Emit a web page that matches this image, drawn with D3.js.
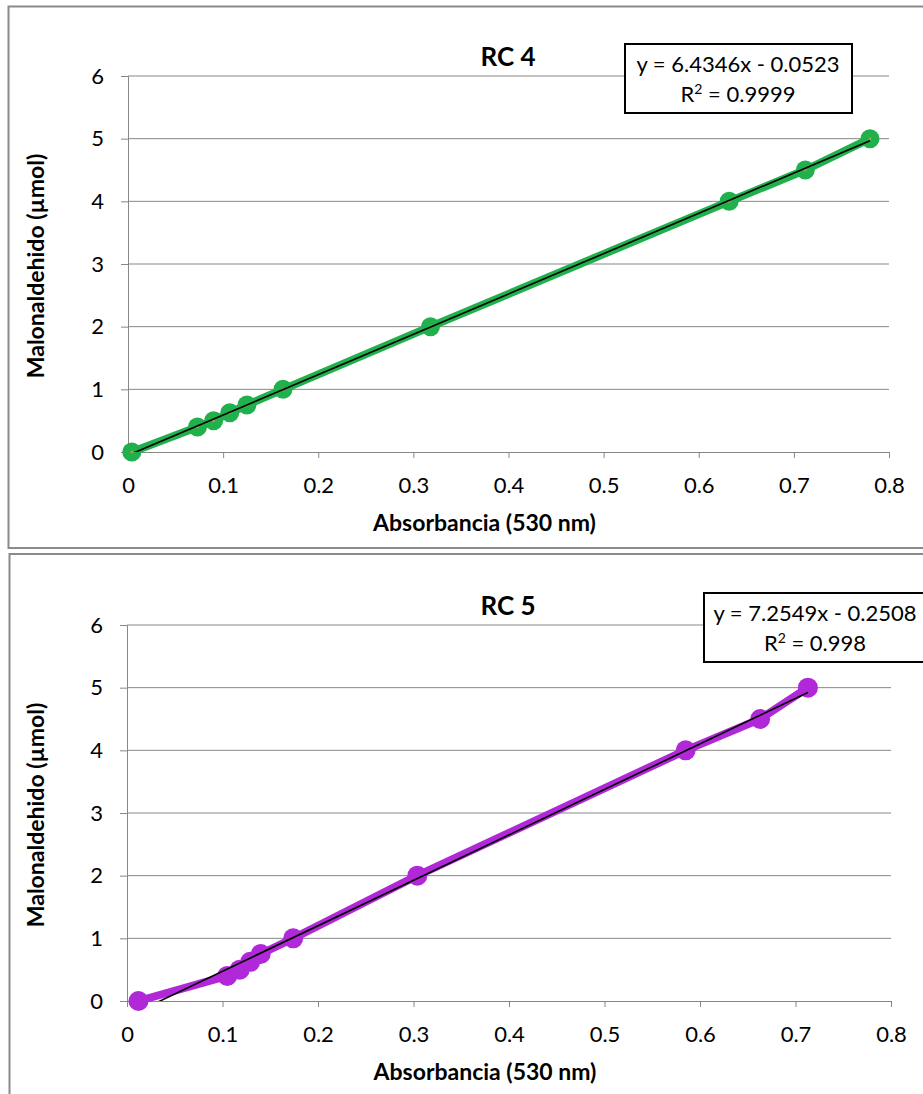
<!DOCTYPE html>
<html>
<head>
<meta charset="utf-8">
<script src="https://cdn.jsdelivr.net/npm/d3@7"></script>
<style>
  html, body { margin: 0; padding: 0; background: #fff; }
  text { font-family: Lato, "Open Sans", sans-serif; fill: #000; }
</style>
</head>
<body>
<svg id="chart" width="923" height="1094"></svg>
<script>
// Calibration curves: absorbance at 530 nm vs. malonaldehyde (µmol)
const mdaAmounts = [0, 0.4, 0.5, 0.625, 0.75, 1, 2, 4, 4.5, 5];
const rc4Absorbance = [0.004, 0.073, 0.090, 0.107, 0.125, 0.163, 0.318, 0.632, 0.712, 0.780];
const rc5Absorbance = [0.012, 0.105, 0.118, 0.129, 0.140, 0.174, 0.304, 0.585, 0.663, 0.713];
const xTicks = [0, 0.1, 0.2, 0.3, 0.4, 0.5, 0.6, 0.7, 0.8];
const yTicks = [0, 1, 2, 3, 4, 5, 6];
const chartTitles = ["RC 4", "RC 5"];
const fitSlopes = [6.4346, 7.2549];
const fitIntercepts = [-0.0523, -0.2508];
const fitR2 = ["0.9999", "0.998"];

const svg = d3.select("#chart");

const panels = [
  { frame: [8.5, 6.5, 930, 541.5], plot: { l: 128, r: 889, t: 76, b: 452 },
    xs: rc4Absorbance, color: "#20b04c", dot: "#a0a040", r: 9.5,
    box: [625, 44, 227, 69], boxCx: 738 },
  { frame: [9.5, 554, 930, 560], plot: { l: 127, r: 891, t: 625, b: 1001 },
    xs: rc5Absorbance, color: "#b128d9", dot: null, r: 10,
    box: [704, 593, 222, 69], boxCx: 815 }
];

panels.forEach((p, i) => {
  const g = svg.append("g");
  const { l, r, t, b } = p.plot;

  g.append("rect")
    .attr("x", p.frame[0]).attr("y", p.frame[1])
    .attr("width", p.frame[2]).attr("height", p.frame[3])
    .attr("fill", "#fff").attr("stroke", "#8a8a8a").attr("stroke-width", 2);

  const x = d3.scaleLinear().domain([0, 0.8]).range([l, r]);
  const y = d3.scaleLinear().domain([0, 6]).range([b, t]);

  // horizontal gridlines
  g.append("g").selectAll("line").data(yTicks.filter(v => v > 0)).join("line")
    .attr("x1", l).attr("x2", r)
    .attr("y1", d => y(d)).attr("y2", d => y(d))
    .attr("stroke", "#878787").attr("stroke-width", 1);

  const xAxis = g.append("g").attr("transform", `translate(0,${b})`)
    .call(d3.axisBottom(x).tickValues(xTicks).tickSize(6).tickPadding(19)
      .tickFormat(d => d === 0 ? "0" : d3.format(".1f")(d)));
  const yAxis = g.append("g").attr("transform", `translate(${l},0)`)
    .call(d3.axisLeft(y).tickValues(yTicks).tickSize(7).tickPadding(17)
      .tickFormat(d3.format("d")));
  [xAxis, yAxis].forEach(ax => {
    ax.select(".domain").attr("stroke", "#878787");
    ax.selectAll(".tick line").attr("stroke", "#878787");
    ax.selectAll("text").attr("font-size", 22).attr("font-family", "Lato, sans-serif").attr("fill", "#000");
  });

  // title and axis titles
  g.append("text").attr("x", 508).attr("y", t - 10)
    .attr("text-anchor", "middle").attr("font-size", 26).attr("font-weight", "bold")
    .text(chartTitles[i]);
  g.append("text").attr("x", (l + r) / 2 - 24).attr("y", b + 79)
    .attr("text-anchor", "middle").attr("font-size", 23).attr("font-weight", "bold")
    .text("Absorbancia (530 nm)");
  g.append("text")
    .attr("transform", `translate(44,${(t + b) / 2 + 2}) rotate(-90)`)
    .attr("text-anchor", "middle").attr("font-size", 23).attr("font-weight", "bold")
    .text("Malonaldehido (µmol)");

  const clipId = "clip" + i;
  g.append("clipPath").attr("id", clipId).append("rect")
    .attr("x", l).attr("y", t).attr("width", r - l).attr("height", b - t);

  const pts = p.xs.map((v, k) => [v, mdaAmounts[k]]);

  // data series
  g.append("path").datum(pts)
    .attr("d", d3.line().x(d => x(d[0])).y(d => y(d[1])))
    .attr("fill", "none").attr("stroke", p.color).attr("stroke-width", 8)
    .attr("stroke-linejoin", "round");
  g.append("g").selectAll("circle").data(pts).join("circle")
    .attr("cx", d => x(d[0])).attr("cy", d => y(d[1])).attr("r", p.r)
    .attr("fill", p.color);
  if (p.dot) {
    g.append("g").selectAll("circle").data(pts).join("circle")
      .attr("cx", d => x(d[0])).attr("cy", d => y(d[1])).attr("r", 1.5)
      .attr("fill", p.dot);
  }

  // linear trendline over the data range
  const x0 = d3.min(p.xs), x1 = d3.max(p.xs);
  const fit = v => fitSlopes[i] * v + fitIntercepts[i];
  g.append("line").attr("clip-path", `url(#${clipId})`)
    .attr("x1", x(x0)).attr("y1", y(fit(x0)))
    .attr("x2", x(x1)).attr("y2", y(fit(x1)))
    .attr("stroke", "#000").attr("stroke-width", 1.6);

  // equation label
  const [bx, by, bw, bh] = p.box;
  g.append("rect").attr("x", bx).attr("y", by).attr("width", bw).attr("height", bh)
    .attr("fill", "#fff").attr("stroke", "#000").attr("stroke-width", 2);
  const sign = fitIntercepts[i] < 0 ? " - " : " + ";
  g.append("text").attr("x", p.boxCx).attr("y", by + 28)
    .attr("text-anchor", "middle").attr("font-size", 22)
    .text(`y = ${fitSlopes[i].toFixed(4)}x${sign}${Math.abs(fitIntercepts[i]).toFixed(4)}`);
  const r2 = g.append("text").attr("x", p.boxCx).attr("y", by + 58)
    .attr("text-anchor", "middle").attr("font-size", 22);
  r2.append("tspan").text("R");
  r2.append("tspan").attr("font-size", 14).attr("dy", -8).text("2");
  r2.append("tspan").attr("dy", 8).text(` = ${fitR2[i]}`);
});
</script>
</body>
</html>
